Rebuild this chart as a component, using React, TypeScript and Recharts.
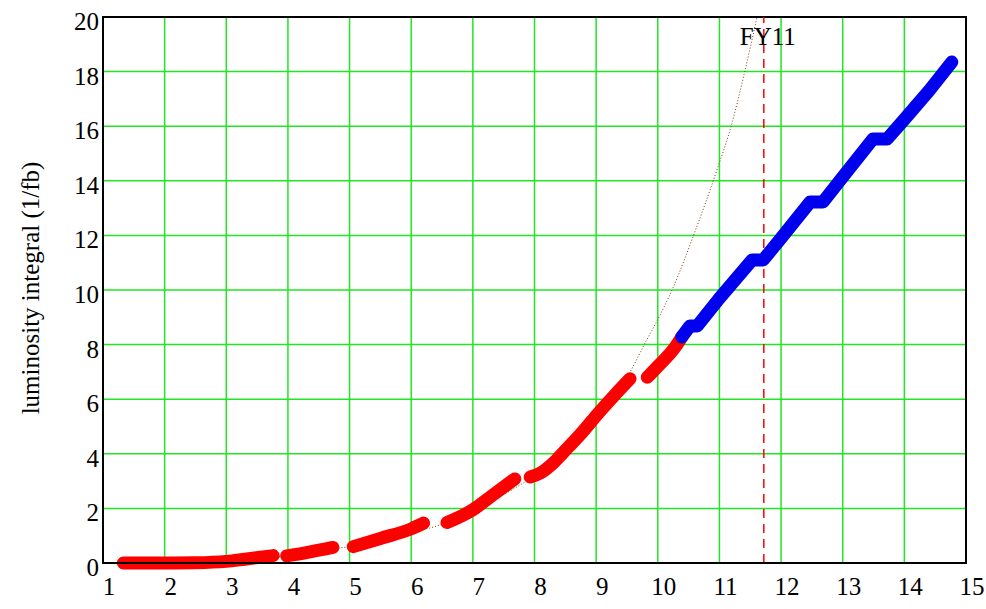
import { LineChart, Line, XAxis, YAxis, CartesianGrid, ReferenceLine, ReferenceArea, Label } from 'recharts';

const FONT = '"Liberation Serif", "Times New Roman", serif';

const xTicks = [1, 2, 3, 4, 5, 6, 7, 8, 9, 10, 11, 12, 13, 14, 15];
const yTicks = [0, 2, 4, 6, 8, 10, 12, 14, 16, 18, 20];

// delivered (red), null = gap between runs
const redX = [1.33, 1.7, 2.0, 2.5, 3.0, 3.3, 3.55, 3.76, 3.87, 3.98, 4.3, 4.73, 4.9, 5.06, 5.5, 6.0, 6.2, 6.4, 6.58, 7.0, 7.3, 7.68, 7.8, 7.93, 8.1, 8.3, 8.46, 8.74, 9.06, 9.3, 9.55, 9.7, 9.83, 9.99, 10.28, 10.39];
const redY = [0, 0, 0, 0.01, 0.06, 0.14, 0.21, 0.27, null, 0.26, 0.38, 0.57, null, 0.6, 0.9, 1.25, 1.46, null, 1.48, 1.95, 2.45, 3.08, null, 3.15, 3.3, 3.65, 4.03, 4.7, 5.55, 6.15, 6.75, null, 6.8, 7.18, 7.9, 8.28];

// FY11 (blue)
const blueX = [10.39, 10.52, 10.64, 11.0, 11.53, 11.71, 12.0, 12.47, 12.68, 13.0, 13.49, 13.72, 14.0, 14.4, 14.77];
const blueY = [8.28, 8.68, 8.68, 9.7, 11.1, 11.1, 11.9, 13.22, 13.22, 14.14, 15.53, 15.53, 16.25, 17.3, 18.35];

// projection (dotted)
const projX = [1.33, 2, 3, 3.5, 4, 4.7, 5, 5.5, 6, 6.5, 7, 7.65, 8, 8.5, 9, 9.55, 9.78, 10.04, 10.25, 10.57, 10.96, 11.19, 11.4, 11.61];
const projY = [0, 0.01, 0.07, 0.18, 0.26, 0.52, 0.6, 0.85, 1.12, 1.42, 1.95, 2.7, 3.2, 4.1, 5.4, 7.0, 8.0, 9.1, 10.1, 11.94, 14.4, 16.0, 17.9, 20];

const FY11_X = 11.72;

const redData = redX.map((x, i) => ({ x, y: redY[i] }));
const blueData = blueX.map((x, i) => ({ x, y: blueY[i] }));
const projData = projX.map((x, i) => ({ x, y: projY[i] }));

const XTick = (props: any) => {
  const { x, y, payload } = props;
  return (
    <text x={x + 6} y={y + 24} textAnchor="middle" fontFamily={FONT} fontSize={25} fill="#000">
      {payload.value}
    </text>
  );
};

const YTick = (props: any) => {
  const { x, y, payload } = props;
  return (
    <text x={x + 4} y={y + 13} textAnchor="end" fontFamily={FONT} fontSize={25} fill="#000">
      {payload.value}
    </text>
  );
};

const YLabel = () => (
  <text
    x={30}
    y={288}
    transform="rotate(-90, 30, 288)"
    textAnchor="middle"
    dominantBaseline="central"
    fontFamily={FONT}
    fontSize={25}
    fill="#000"
  >
    luminosity integral (1/fb)
  </text>
);

export default function App() {
  return (
    <div style={{ position: 'absolute', left: 0, top: 0, width: 986, height: 609, background: '#fff' }}>
      <LineChart width={986} height={609} margin={{ top: 17, right: 20, left: 0, bottom: 0 }}>
        <CartesianGrid stroke="#22e622" strokeWidth={1.5} />
        <XAxis
          dataKey="x"
          type="number"
          domain={[1, 15]}
          ticks={xTicks}
          tick={<XTick />}
          tickLine={false}
          axisLine={{ stroke: '#000', strokeWidth: 2 }}
          height={46}
          interval={0}
        />
        <YAxis
          type="number"
          domain={[0, 20]}
          ticks={yTicks}
          tick={<YTick />}
          tickLine={false}
          axisLine={{ stroke: '#000', strokeWidth: 2 }}
          width={103}
          interval={0}
        >
          <Label content={<YLabel />} />
        </YAxis>
        <ReferenceArea x1={1} x2={15} y1={0} y2={20} fill="none" stroke="#000" strokeWidth={2} fillOpacity={0} />
        <ReferenceLine
          x={FY11_X}
          stroke="#ff0000"
          strokeWidth={1.5}
          strokeDasharray="9 6"
          label={{ value: 'FY11', position: 'insideTop', offset: 10, dx: 4, fontSize: 25, fontFamily: FONT, fill: '#000' }}
        />
        <Line
          data={redData}
          dataKey="y"
          type="monotone"
          stroke="#ff0000"
          strokeWidth={13}
          strokeLinecap="round"
          strokeLinejoin="round"
          dot={false}
          activeDot={false}
          isAnimationActive={false}
        />
        <Line
          data={blueData}
          dataKey="y"
          type="linear"
          stroke="#0000ee"
          strokeWidth={13}
          strokeLinecap="round"
          strokeLinejoin="round"
          dot={false}
          activeDot={false}
          isAnimationActive={false}
        />
        <Line
          data={projData}
          dataKey="y"
          type="monotone"
          stroke="#804000"
          strokeWidth={1}
          strokeDasharray="1 2"
          dot={false}
          activeDot={false}
          isAnimationActive={false}
        />
      </LineChart>
    </div>
  );
}
